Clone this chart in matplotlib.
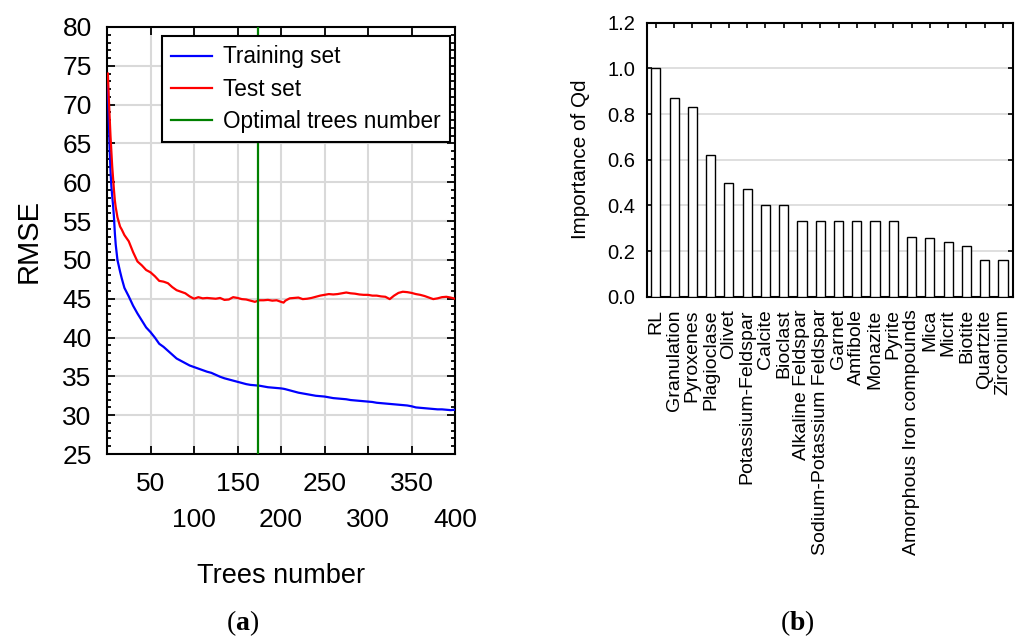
import matplotlib
matplotlib.use("Agg")
import matplotlib.pyplot as plt
from matplotlib.ticker import MultipleLocator, FixedLocator

plt.rcParams['font.family'] = ['Liberation Sans', 'DejaVu Sans']
plt.rcParams['mathtext.fontset'] = 'custom'
plt.rcParams['mathtext.rm'] = 'Liberation Serif'
plt.rcParams['mathtext.bf'] = 'Liberation Serif:bold'

# ---- (a) RMSE versus number of trees ----
trees = [1, 2, 3, 4, 5, 6, 7, 8, 9, 10, 12, 15, 17, 20, 25, 30, 35, 40, 45, 50,
         55, 60, 65, 70, 72, 75, 80, 85, 90, 95, 100, 105, 110, 115, 120, 125,
         130, 135, 140, 145, 150, 155, 160, 165, 170, 175, 180, 185, 190, 195,
         200, 203, 205, 210, 215, 220, 225, 230, 235, 240, 245, 250, 255, 260,
         265, 270, 275, 280, 285, 290, 295, 300, 305, 310, 315, 320, 325, 330,
         335, 340, 345, 350, 355, 360, 365, 370, 375, 380, 385, 390, 395, 400]

rmse_train = [72.5, 68.0, 64.5, 61.5, 59.5, 58.2, 57.0, 55.5, 53.5, 52.0, 50.0,
              48.5, 47.6, 46.4, 45.3, 44.1, 43.1, 42.2, 41.3, 40.7, 40.0, 39.2,
              38.8, 38.3, 38.1, 37.8, 37.3, 37.0, 36.7, 36.4, 36.2, 36.0, 35.8,
              35.6, 35.45, 35.2, 34.95, 34.75, 34.6, 34.45, 34.3, 34.15, 34.0,
              33.9, 33.85, 33.8, 33.7, 33.6, 33.55, 33.5, 33.45, 33.4, 33.35,
              33.2, 33.05, 32.9, 32.8, 32.7, 32.6, 32.5, 32.45, 32.4, 32.3, 32.2,
              32.15, 32.1, 32.05, 31.95, 31.9, 31.85, 31.8, 31.75, 31.7, 31.6,
              31.55, 31.5, 31.45, 31.4, 31.35, 31.3, 31.25, 31.15, 31.0, 30.95,
              30.9, 30.85, 30.8, 30.75, 30.75, 30.7, 30.65, 30.7]

rmse_test = [74.0, 71.0, 68.5, 66.0, 64.0, 62.0, 60.5, 59.0, 57.7, 56.8, 55.5,
             54.3, 53.9, 53.2, 52.4, 51.0, 49.8, 49.3, 48.7, 48.4, 47.9, 47.3,
             47.2, 47.0, 46.8, 46.5, 46.1, 45.9, 45.7, 45.3, 45.0, 45.2, 45.05,
             45.1, 45.05, 45.0, 45.1, 44.85, 44.9, 45.2, 45.1, 44.95, 44.9,
             44.75, 44.6, 44.8, 44.8, 44.85, 44.75, 44.8, 44.6, 44.5, 44.75,
             45.05, 45.1, 45.15, 44.95, 45.0, 45.1, 45.25, 45.4, 45.5, 45.6,
             45.55, 45.6, 45.7, 45.8, 45.7, 45.65, 45.55, 45.5, 45.5, 45.4, 45.4,
             45.3, 45.25, 44.95, 45.4, 45.75, 45.9, 45.85, 45.75, 45.6, 45.5,
             45.35, 45.15, 44.95, 45.05, 45.2, 45.25, 45.15, 45.0]

optimal_trees = 174

x_labels_upper = [50, 150, 250, 350]
x_labels_lower = [100, 200, 300, 400]

# ---- (b) feature importance ----
minerals = ["RL", "Granulation", "Pyroxenes", "Plagioclase", "Olivet",
            "Potassium-Feldspar", "Calcite", "Bioclast", "Alkaline Feldspar",
            "Sodium-Potassium Feldspar", "Garnet", "Amfibole", "Monazite",
            "Pyrite", "Amorphous Iron compounds", "Mica", "Micrit", "Biotite",
            "Quartzite", "Zirconium"]
importance = [1.0, 0.87, 0.83, 0.62, 0.50, 0.47, 0.40, 0.40, 0.33, 0.33,
              0.33, 0.33, 0.33, 0.33, 0.26, 0.255, 0.24, 0.22, 0.16, 0.16]

fig = plt.figure(figsize=(10.16, 6.37), dpi=100)
grid_color = '#d9d9d9'

# Left panel
ax1 = fig.add_axes([107 / 1016, 1 - 454 / 637, 348 / 1016, 427 / 637])
ax1.plot(trees, rmse_train, color='#0000ff', lw=1.6, label='Training set', zorder=3)
ax1.plot(trees, rmse_test, color='#ff0000', lw=1.6, label='Test set', zorder=4)
ax1.axvline(optimal_trees, color='#008000', lw=1.6, label='Optimal trees number', zorder=5)
ax1.set_xlim(0, 400)
ax1.set_ylim(25, 80)
ax1.xaxis.set_major_locator(FixedLocator(x_labels_upper))
ax1.xaxis.set_minor_locator(FixedLocator(x_labels_lower))
ax1.set_xticklabels([str(v) for v in x_labels_upper])
ax1.set_xticklabels([str(v) for v in x_labels_lower], minor=True)
ax1.yaxis.set_major_locator(MultipleLocator(5))
ax1.yaxis.set_minor_locator(MultipleLocator(1))
ax1.grid(True, which='both', axis='x', color=grid_color, lw=1.5, zorder=0)
ax1.grid(True, which='major', axis='y', color=grid_color, lw=1.5, zorder=0)
ax1.set_axisbelow(True)
ax1.tick_params(which='both', direction='in', top=True, right=True,
                labelsize=19, width=1.3, colors='black')
ax1.tick_params(axis='x', which='major', length=6, pad=13)
ax1.tick_params(axis='x', which='minor', length=6, pad=39)
ax1.tick_params(axis='y', which='major', length=6, pad=11)
ax1.tick_params(axis='y', which='minor', length=3)
for s in ax1.spines.values():
    s.set_linewidth(1.5)
ax1.set_ylabel('RMSE', fontsize=21, labelpad=14)
ax1.set_xlabel('Trees number', fontsize=19.5, labelpad=22)
leg = ax1.legend(loc='upper right', bbox_to_anchor=(0.985, 0.978), fontsize=16.3,
                 fancybox=False, framealpha=1, edgecolor='black',
                 handlelength=1.8, handletextpad=0.5, labelspacing=0.4,
                 borderaxespad=0, borderpad=0.4)
leg.get_frame().set_linewidth(1.5)

# Right panel
ax2 = fig.add_axes([646.7 / 1016, 1 - 296.7 / 637, 366.3 / 1016, 274 / 637])
pos = list(range(len(minerals)))
ax2.bar(pos, importance, width=0.5, color='white', edgecolor='black', lw=1.0, zorder=3)
ax2.set_xlim(-0.5, 19.55)
ax2.set_ylim(0, 1.2)
ax2.set_xticks(pos)
ax2.set_xticklabels(minerals, rotation=90, fontsize=14)
ax2.set_yticks([0.0, 0.2, 0.4, 0.6, 0.8, 1.0, 1.2])
ax2.set_yticklabels(['0.0', '0.2', '0.4', '0.6', '0.8', '1.0', '1.2'], fontsize=14.5)
ax2.grid(True, axis='y', color=grid_color, lw=1.2, zorder=0)
ax2.set_axisbelow(True)
ax2.tick_params(which='both', direction='in', top=True, right=True,
                length=3.5, width=1.2)
ax2.tick_params(axis='x', pad=9)
ax2.tick_params(axis='y', pad=8)
for s in ax2.spines.values():
    s.set_linewidth(1.5)
ax2.set_ylabel('Importance of Qd', fontsize=14.9, labelpad=13)

# Panel captions
fig.text(243 / 1016, 1 - 623 / 637, r'($\mathbf{a}$)', ha='center', va='center',
         fontsize=20, family='Liberation Serif')
fig.text(797 / 1016, 1 - 623 / 637, r'($\mathbf{b}$)', ha='center', va='center',
         fontsize=20, family='Liberation Serif')

fig.savefig('out.png', dpi=100)
